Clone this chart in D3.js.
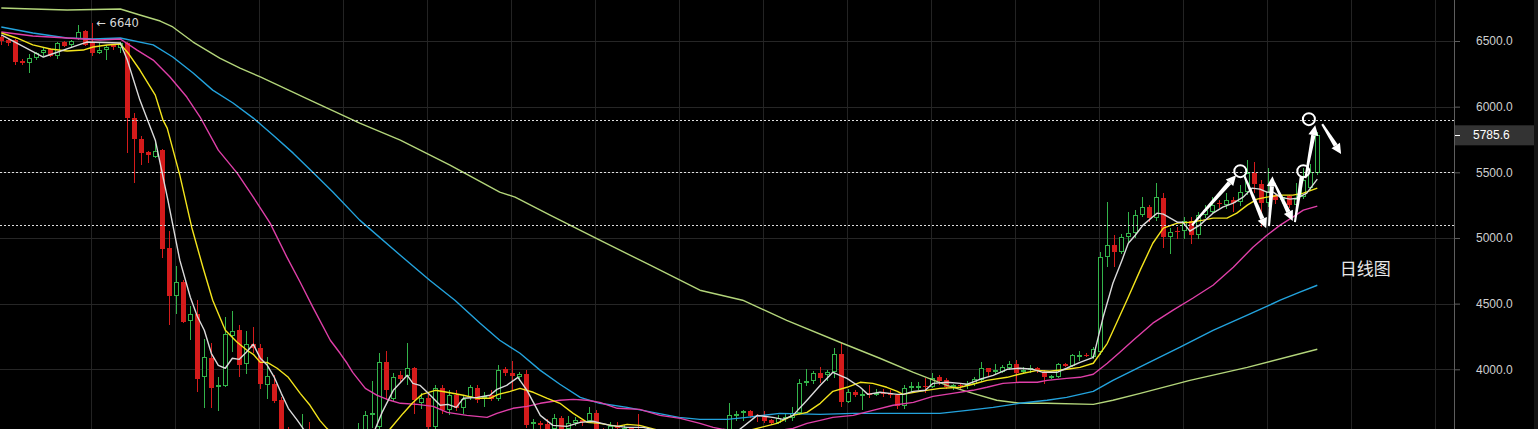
<!DOCTYPE html>
<html><head><meta charset="utf-8">
<script src="https://cdn.jsdelivr.net/npm/d3@7"></script>
<style>html,body{margin:0;padding:0;background:#000;overflow:hidden}</style>
</head><body>
<svg id="c" width="1538" height="429"></svg>
<script>
// ---- DATA ----
// daily candles [open, high, low, close], day index 0 = first visible day
const ohlc = [
[6530,6545,6470,6500],[6508,6515,6462,6485],[6508,6515,6317,6340],[6348,6360,6317,6332],[6332,6400,6256,6370],
[6370,6420,6355,6408],[6408,6450,6385,6431],[6439,6445,6375,6385],[6385,6495,6365,6485],[6492,6500,6455,6462],
[6470,6510,6450,6500],[6515,6622,6505,6569],[6576,6585,6460,6470],[6485,6640,6385,6408],[6408,6485,6400,6431],
[6431,6470,6355,6454],[6477,6480,6431,6454],[6447,6490,6409,6485],[6485,6490,5646,5913],[5913,5951,5418,5753],
[5753,5776,5555,5646],[5654,5660,5570,5631],[5616,5745,5610,5662],[5669,5680,4846,4915],[4922,5052,4335,4556],
[4556,4785,4419,4663],[4663,4680,4351,4358],[4366,4480,4221,4419],[4419,4526,3825,3924],[3939,4229,3703,4092],
[4084,4198,3703,3855],[3863,3939,3680,3878],[3870,4396,3865,4267],[4252,4442,4130,4290],[4297,4335,3939,4031],
[4038,4290,3962,4191],[4191,4320,4122,4160],[4160,4191,3850,3885],[3878,4091,3771,3947],[3885,3960,3740,3756],
[3764,3790,3480,3500],[3500,3560,3350,3420],[3420,3500,3280,3380],[3380,3657,3350,3450],[3450,3596,3350,3400],
[3400,3460,3250,3300],[3300,3420,3270,3350],[3350,3380,3220,3260],[3260,3300,3180,3200],[3200,3300,3170,3250],
[3250,3320,3230,3270],[3270,3588,3250,3520],[3520,3680,3500,3649],[3649,3908,3550,3664],[3560,4122,3540,4053],
[4053,4137,3764,3840],[3771,3970,3760,3939],[3954,3985,3893,3924],[3947,4198,3880,4008],[4008,4020,3657,3764],
[3741,3817,3700,3779],[3779,3830,3520,3560],[3558,3880,3540,3855],[3855,3880,3660,3687],[3687,3840,3650,3802],
[3802,3840,3680,3703],[3703,3800,3660,3771],[3786,3880,3770,3863],[3855,3880,3740,3764],[3786,3830,3710,3794],
[3802,3840,3760,3771],[3771,4030,3760,3992],[4000,4020,3950,3970],[3970,4060,3840,3947],[3939,3980,3910,3962],
[3962,3992,3550,3573],[3581,3620,3543,3596],[3590,3610,3540,3573],[3581,3620,3510,3530],[3543,3660,3530,3626],
[3626,3642,3510,3530],[3545,3642,3530,3588],[3588,3634,3565,3611],[3611,3620,3565,3600],[3604,3711,3590,3664],
[3664,3687,3500,3530],[3530,3550,3480,3520],[3520,3596,3500,3565],[3565,3596,3520,3550],[3530,3575,3500,3550],
[3550,3560,3480,3520],[3530,3657,3460,3480],[3480,3510,3420,3440],[3440,3490,3400,3460],[3460,3480,3380,3420],
[3420,3500,3400,3450],[3450,3470,3410,3430],[3430,3500,3420,3470],[3470,3490,3400,3440],[3440,3480,3430,3460],
[3460,3470,3380,3420],[3420,3440,3380,3400],[3400,3450,3390,3420],[3420,3430,3360,3380],[3390,3741,3380,3650],
[3649,3680,3610,3657],[3664,3690,3605,3680],[3680,3690,3630,3642],[3645,3660,3600,3640],[3634,3680,3590,3604],
[3611,3620,3575,3588],[3590,3650,3580,3630],[3620,3660,3600,3640],[3626,3710,3610,3664],[3664,3924,3650,3893],
[3893,4000,3870,3908],[3908,3990,3890,3970],[3970,4015,3893,3931],[3960,3992,3910,3980],[3977,4160,3931,4114],
[4114,4198,3710,3748],[3748,3850,3740,3825],[3825,3840,3790,3802],[3810,3847,3690,3815],[3817,3880,3780,3805],
[3810,3850,3800,3820],[3820,3850,3790,3812],[3817,3840,3785,3805],[3802,3815,3700,3718],[3718,3880,3700,3855],
[3860,3900,3825,3870],[3865,3901,3845,3875],[3875,3931,3820,3863],[3863,3970,3855,3931],[3939,3960,3880,3908],
[3916,3930,3850,3863],[3863,3890,3840,3878],[3878,3890,3850,3870],[3870,3910,3850,3886],[3886,3940,3875,3924],
[3916,4053,3905,4008],[4008,4010,3950,3977],[3985,4040,3955,3995],[3977,4030,3970,4015],[4008,4060,3995,4038],
[4038,4069,3901,3970],[3985,4020,3970,3995],[3995,4030,3975,4008],[4008,4015,3975,3995],[3977,3992,3886,3939],
[3939,3960,3925,3950],[3939,4050,3935,4038],[4038,4046,4015,4023],[4023,4120,4015,4107],[4105,4140,4060,4110],
[4110,4125,4095,4105],[4092,4170,4080,4153],[4130,4890,4110,4854],[4854,5273,4777,4945],[4945,5021,4777,4892],
[4892,5030,4880,5006],[5006,5197,4968,5037],[5037,5212,5000,5174],[5174,5311,5159,5235],[5235,5250,5120,5151],
[5151,5418,5130,5311],[5303,5342,4922,5006],[5006,5075,4877,5044],[5052,5080,4990,5047],[5052,5160,4990,5128],
[5128,5159,4953,5021],[5021,5200,4990,5174],[5174,5250,5150,5212],[5197,5311,5180,5250],[5265,5288,5230,5260],
[5250,5340,5220,5288],[5288,5311,5200,5265],[5273,5400,5240,5349],[5349,5593,5330,5494],[5494,5580,5340,5410],
[5410,5440,5082,5265],[5265,5530,5235,5349],[5326,5340,5260,5288],[5288,5330,5260,5311],[5319,5330,5230,5250],
[5250,5420,5180,5300],[5311,5530,5300,5441],[5380,5560,5360,5501],[5494,5806,5480,5785.6]
];

// moving averages: [day index, value]
const ma5 = [[0,6546],[6,6378],[12.2,6492],[17,6485],[18,6355],[19.8,6050],[22,5745],[23.8,5288],[25.5,4831],[27,4549],
[28,4404],[29,4297],[30,4122],[31,4030],[32,4008],[33,4084],[34,4076],[35,4130],[36,4191],[37,4084],[38,4030],[39,3939],
[40,3817],[41,3703],[42.3,3611],[43.1,3550],[45,3420],[48,3300],[50,3290],[52,3420],[53.4,3543],[54.4,3672],[56,3840],
[58,3954],[58.8,3893],[59.8,3878],[61,3817],[62.7,3726],[63.8,3733],[65,3710],[66,3779],[68,3786],[69.8,3802],[70.8,3847],
[72.2,3878],[73.8,3939],[75.1,3840],[77,3649],[78.8,3573],[80.8,3565],[82.7,3596],[84.5,3604],[87,3573],[89.4,3558],
[91.7,3558],[93,3543],[96,3470],[100,3440],[103,3430],[105.5,3543],[108,3649],[110.2,3634],[111.7,3619],[113.1,3649],
[115.1,3764],[117,3878],[118.8,3977],[120.8,3931],[122.7,3863],[123.8,3809],[125.5,3825],[128,3809],[128.8,3809],
[130.3,3832],[132,3840],[133.1,3893],[135.1,3901],[137,3893],[138,3886],[139.8,3924],[141.7,3954],[143.7,4000],
[145.5,4008],[147.4,4000],[148.8,3977],[150.8,3977],[152.2,4008],[154.1,4053],[156,4091],[157.4,4396],[158.8,4655],
[160.1,4831],[161,4960],[162,5021],[163.1,5098],[165.1,5189],[166,5182],[168,5120],[168.8,5120],[169.8,5052],
[171.2,5098],[173.1,5189],[174.5,5235],[176,5265],[177.4,5311],[178.7,5380],[179.8,5372],[180.8,5349],[181.7,5349],
[182.7,5311],[184.1,5296],[185.1,5303],[186.5,5342],[188,5448]];

const ma10 = [[0,6561],[2.2,6523],[4.5,6470],[7,6439],[9.4,6424],[11.7,6431],[13.1,6454],[15.1,6470],[17,6477],
[18.1,6409],[19.8,6279],[22,6088],[23.1,5898],[23.7,5837],[25.5,5479],[27.2,5082],[28.8,4777],[30.2,4526],[32,4297],
[33.7,4206],[35.1,4145],[36,4114],[37,4053],[38,4053],[39.4,4008],[41,3939],[42.7,3817],[44.1,3726],[45.5,3611],
[46.5,3550],[49,3430],[52,3420],[55.5,3543],[57.4,3664],[58.7,3741],[60.1,3809],[62,3840],[63.7,3825],[66,3802],
[68,3779],[69.8,3779],[71,3809],[72.7,3832],[74.1,3855],[76,3825],[78,3779],[79.8,3741],[81.7,3664],[83.7,3596],
[85.5,3588],[88,3565],[89.4,3581],[91.2,3573],[93.4,3543],[97,3480],[101,3450],[104,3470],[107.4,3543],[110.8,3588],
[113.1,3649],[115.1,3672],[117,3741],[118.8,3832],[120.8,3863],[122.7,3901],[124.5,3893],[126.5,3863],[128,3832],
[128.8,3809],[131.2,3832],[134.1,3855],[137,3863],[138.8,3886],[140.8,3916],[143.7,3939],[146,3970],[148,3992],
[149.8,3985],[152.2,4000],[154.1,4015],[156,4046],[158,4198],[159.5,4373],[160.8,4526],[162.7,4755],[164.5,4960],
[166,5075],[168,5113],[169.8,5120],[171.7,5136],[173.1,5151],[175.1,5151],[176.5,5189],[178,5250],[179.4,5296],
[180.8,5311],[182.7,5326],[184.5,5326],[186,5342],[188,5380]];

const ma30 = [[0,6569],[4.5,6538],[9.4,6523],[14.1,6508],[17,6515],[19.4,6431],[21.7,6355],[24.1,6226],[26.5,6073],
[28.4,5921],[31,5669],[33.7,5494],[36,5311],[38.4,5113],[40.8,4854],[42.7,4663],[44.5,4473],[47,4221],[48.4,4122],
[49.4,4046],[50.2,3977],[52,3855],[53.7,3802],[55.5,3764],[57,3741],[59.4,3733],[61.7,3718],[63.7,3672],[66.5,3649],
[69.4,3634],[70.8,3664],[73.1,3703],[75.1,3718],[77,3741],[79.8,3764],[81.7,3771],[83.7,3764],[85.5,3748],[88,3703],
[91.2,3695],[94.1,3649],[97,3626],[99.8,3588],[101.7,3558],[103.1,3543],[106,3525],[110,3525],[113.1,3550],[115.1,3588],
[117,3611],[118.8,3634],[121.7,3649],[124.5,3687],[127.4,3726],[130.3,3748],[133.1,3794],[135.9,3817],[138.8,3840],
[140.8,3863],[143.1,3893],[145.5,3901],[148,3901],[149.4,3916],[152.2,3931],[154.1,3939],[156,3962],[158,4046],
[159.8,4130],[161.7,4221],[164.5,4351],[167.4,4450],[170.2,4541],[173.1,4640],[176,4777],[178.8,4930],[180.8,5021],
[182.7,5098],[184.5,5159],[186,5212],[188,5243]];

const ma60 = [[0,6607],[4.5,6561],[9.4,6523],[13.1,6515],[17,6523],[21.7,6470],[24.5,6378],[27.4,6256],[30.2,6126],
[33.1,6028],[36,5913],[38.8,5784],[41.7,5646],[44.5,5501],[47.4,5349],[51.2,5136],[57,4869],[61.2,4678],[64.8,4526],
[68.4,4351],[71.2,4221],[74.1,4122],[77,3992],[79.8,3886],[82.7,3786],[85.5,3741],[89.4,3710],[93.1,3672],[96.8,3634],
[99.8,3619],[103.7,3619],[106.5,3634],[111.2,3664],[117,3657],[121.7,3664],[126.5,3664],[134.1,3664],[138,3687],
[141.7,3710],[145.5,3741],[149.4,3764],[152.2,3786],[156,3832],[158.8,3916],[163.7,4046],[168.4,4168],[173.1,4297],
[178,4412],[182.7,4526],[185.5,4587],[188,4640]];

const ma120 = [[0,6751],[4.5,6744],[9.4,6736],[17,6744],[19.8,6698],[22.7,6652],[24.5,6607],[27.4,6492],[31.2,6370],
[34.1,6294],[37,6226],[44.1,6050],[51.2,5875],[57,5745],[64.1,5555],[71.2,5349],[73.4,5311],[78.4,5174],[85.5,4983],
[92.7,4793],[99.8,4602],[105.9,4526],[112.2,4373],[119.8,4206],[125.5,4084],[130.3,3977],[135.1,3878],[138.8,3817],
[142.2,3764],[145.5,3741],[149.4,3741],[156,3733],[158.8,3764],[162.7,3817],[169.8,3916],[178,4015],[188,4153]];

const priceTicks = [4000, 4500, 5000, 5500, 6000, 6500];
const dashedLevels = [5900, 5500, 5100];
const lastPrice = 5785.6;
const peak = {day: 13, value: 6640, text: "\u2190 6640"};
const noteText = "日线图";
const notePos = [191.2, 4763];
// hand-drawn annotation: circles and arrows, in [day, price]
const noteCircles = [[177, 5509], [186, 5509], [186.8, 5905]];
const noteArrows = [
  {from: [170.1, 5098], to: [176.4, 5478], head: true},
  {from: [177.6, 5470], to: [180.7, 5075], head: true},
  {from: [181.1, 5090], to: [181.6, 5470], head: true},
  {from: [181.8, 5425], to: [184.5, 5130], head: true},
  {from: [184.8, 5120], to: [185.8, 5468], head: false},
  {from: [186.3, 5456], to: [187.7, 5858], head: true},
  {from: [188.7, 5867], to: [191.4, 5640], head: true}
];
const gridStepDays = 12, gridOffset = 12.8, gridCount = 17;

// ---- CHART ----
const W = 1538, H = 429, plotR = 1454;
const svg = d3.select('#c');
svg.append('rect').attr('width', W).attr('height', H).attr('fill', '#000');

const x = d3.scaleLinear().domain([0, ohlc.length - 1]).range([1.3, 1.3 + 7 * (ohlc.length - 1)]);
const y = d3.scaleLinear().domain([4000, 6500]).range([369.3, 41]);

svg.append('clipPath').attr('id', 'pc').append('rect').attr('x', 0).attr('y', 0).attr('width', plotR).attr('height', H);
const plot = svg.append('g').attr('clip-path', 'url(#pc)');

// grid
const gridDays = d3.range(gridCount).map(k => gridOffset + gridStepDays * k);
plot.append('g').selectAll('line').data(gridDays).join('line')
  .attr('x1', d => Math.round(x(d)) + 0.5).attr('x2', d => Math.round(x(d)) + 0.5)
  .attr('y1', 0).attr('y2', H).attr('stroke', '#232323').attr('stroke-width', 1);
plot.append('g').selectAll('line').data(priceTicks).join('line')
  .attr('x1', 0).attr('x2', plotR)
  .attr('y1', d => Math.round(y(d)) + 0.5).attr('y2', d => Math.round(y(d)) + 0.5)
  .attr('stroke', '#262626').attr('stroke-width', 1);

// candles
const RED = '#d41b1b', GREEN = '#33b34a';
const cg = plot.append('g').attr('shape-rendering', 'crispEdges');
ohlc.forEach((d, i) => {
  const [o, h, l, c] = d;
  const up = c >= o;
  const cx = Math.round(x(i));
  const col = up ? GREEN : RED;
  cg.append('line').attr('x1', cx + 0.5).attr('x2', cx + 0.5)
    .attr('y1', y(h)).attr('y2', y(l)).attr('stroke', col).attr('stroke-width', 1);
  const top = Math.round(y(Math.max(o, c))), bot = Math.round(y(Math.min(o, c)));
  const hgt = Math.max(1, bot - top);
  if (up) {
    cg.append('rect').attr('x', cx - 1.5).attr('y', top + 0.5).attr('width', 4).attr('height', Math.max(0.5, hgt - 1))
      .attr('fill', '#000').attr('stroke', col).attr('stroke-width', 1);
  } else {
    cg.append('rect').attr('x', cx - 2).attr('y', top).attr('width', 5).attr('height', hgt).attr('fill', col);
  }
});

// moving averages
const line = d3.line().x(d => x(d[0])).y(d => y(d[1]));
const maDefs = [
  [ma120, '#b3d57a'], [ma60, '#23a3dd'], [ma30, '#df3fa8'], [ma10, '#f3e41c'], [ma5, '#dadada']
];
maDefs.forEach(([data, col]) => {
  plot.append('path').datum(data).attr('d', line).attr('fill', 'none')
    .attr('stroke', col).attr('stroke-width', 1.4).attr('stroke-linejoin', 'round');
});

// dashed levels
plot.append('g').selectAll('line').data(dashedLevels).join('line')
  .attr('x1', 0).attr('x2', plotR)
  .attr('y1', d => Math.round(y(d)) + 0.5).attr('y2', d => Math.round(y(d)) + 0.5)
  .attr('stroke', '#e0e0e0').attr('stroke-width', 1).attr('stroke-dasharray', '2,2');

// peak label
plot.append('text').attr('x', x(peak.day) + 4).attr('y', y(peak.value)).attr('dy', '0.35em')
  .attr('fill', '#d8d8d8').attr('font-family', 'DejaVu Sans, sans-serif').attr('font-size', 11.5)
  .text(peak.text);

// annotations
const ann = svg.append('g');
noteArrows.forEach(a => {
  const x1 = x(a.from[0]), y1 = y(a.from[1]), x2 = x(a.to[0]), y2 = y(a.to[1]);
  const dx = x2 - x1, dy = y2 - y1, len = Math.hypot(dx, dy), ux = dx / len, uy = dy / len;
  const hl = a.head ? 10 : 0, hw = 5;
  const bx = x2 - ux * hl, by = y2 - uy * hl;
  const w0 = 1, w1 = 2.2;
  const px = -uy, py = ux;
  ann.append('path').attr('d', `M${x1 + px * w0},${y1 + py * w0}L${bx + px * w1},${by + py * w1}L${bx - px * w1},${by - py * w1}L${x1 - px * w0},${y1 - py * w0}Z`)
    .attr('fill', '#fff');
  if (a.head) {
    ann.append('path').attr('d', `M${x2},${y2}L${bx + px * hw},${by + py * hw}L${bx - px * hw},${by - py * hw}Z`).attr('fill', '#fff');
  }
});
ann.selectAll('circle').data(noteCircles).join('circle')
  .attr('cx', d => x(d[0])).attr('cy', d => y(d[1])).attr('r', 6)
  .attr('fill', 'none').attr('stroke', '#fff').attr('stroke-width', 2);

svg.append('text').attr('x', x(notePos[0])).attr('y', y(notePos[1])).attr('dy', '0.35em')
  .attr('fill', '#e8e8e8').attr('font-family', 'Noto Sans CJK SC, sans-serif').attr('font-size', 17)
  .text(noteText);

// right axis
svg.append('line').attr('x1', plotR + 0.5).attr('x2', plotR + 0.5).attr('y1', 0).attr('y2', H)
  .attr('stroke', '#5e5e5e').attr('stroke-width', 1);
const axis = svg.append('g').attr('transform', `translate(${plotR + 1},0)`)
  .call(d3.axisRight(y).tickValues(priceTicks).tickFormat(d3.format('.1f')).tickSize(5).tickPadding(16));
axis.select('.domain').remove();
axis.selectAll('.tick line').attr('stroke', '#5e5e5e');
axis.selectAll('.tick text').attr('fill', '#cfcfcf').attr('font-family', 'Liberation Sans, Arial, sans-serif').attr('font-size', 12);

// last price box
const ly = y(lastPrice);
svg.append('rect').attr('x', plotR + 1).attr('y', ly - 9.5).attr('width', 79).attr('height', 20).attr('fill', '#333');
svg.append('line').attr('x1', plotR + 1).attr('x2', plotR + 6).attr('y1', Math.round(ly) + 0.5).attr('y2', Math.round(ly) + 0.5)
  .attr('stroke', '#fff');
svg.append('text').attr('x', plotR + 19).attr('y', ly).attr('dy', '0.35em')
  .attr('fill', '#fff').attr('font-family', 'Liberation Sans, Arial, sans-serif').attr('font-size', 12)
  .text(d3.format('.1f')(lastPrice));

svg.append('rect').attr('x', 1534).attr('y', 0).attr('width', 4).attr('height', H).attr('fill', '#141414');
</script>
</body></html>
